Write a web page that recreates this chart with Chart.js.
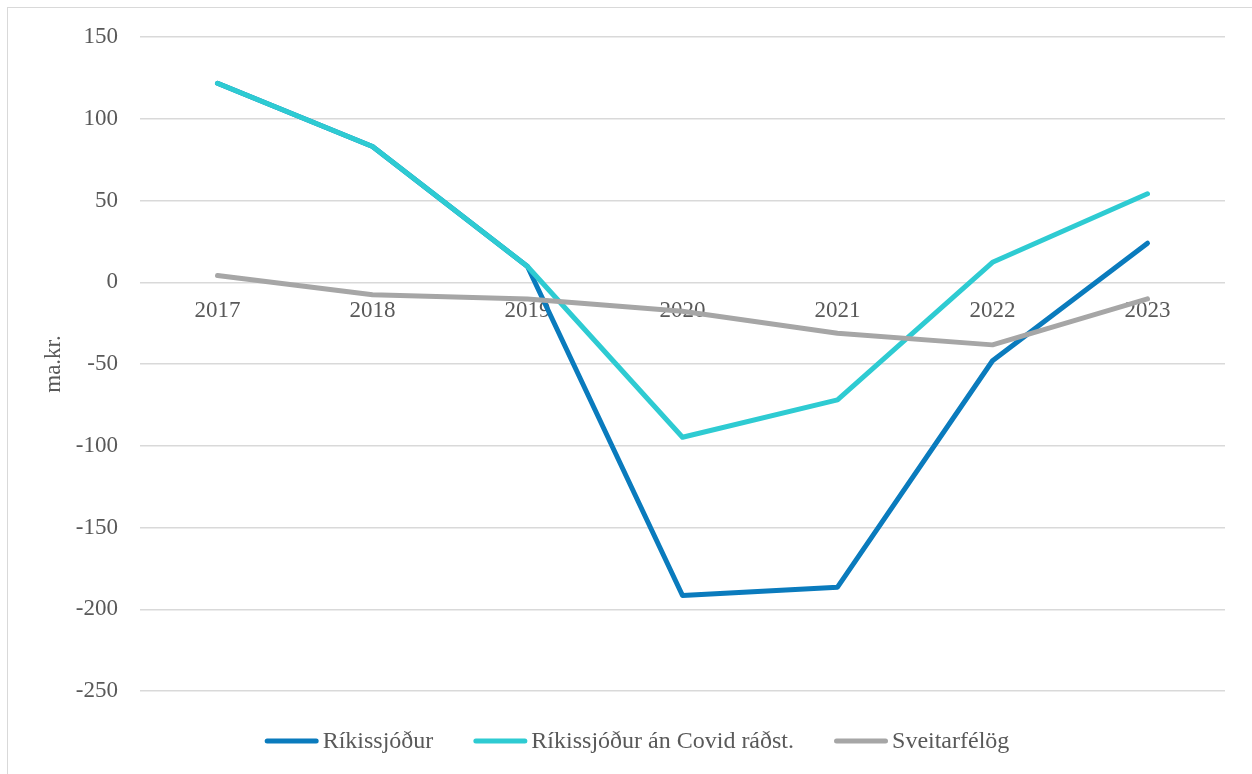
<!DOCTYPE html>
<html>
<head>
<meta charset="utf-8">
<script src="https://cdn.jsdelivr.net/npm/chart.js@4/dist/chart.umd.min.js"></script>
<style>
    html, body {
        margin: 0;
        padding: 0;
        background: #fff;
    }
    #wraper {
        width: 1252px;
        height: 774px;
    }
</style>
</head>
<body>
<div id="wraper"><canvas id="chart" width="1252" height="774"></canvas></div>
<script>
var years = ["2017", "2018", "2019", "2020", "2021", "2022", "2023"];

var rikissjodur = [121.7, 83, 9.6, -191.6, -186.5, -48, 23.9];
var anCovid = [121.7, 83, 9.6, -94.8, -71.9, 12.2, 54.1];
var sveitarfelog = [4.1, -7.7, -10.2, -17.7, -31.2, -38.3, -10.2];

var seriesNames = ["Ríkissjóður", "Ríkissjóður án Covid ráðst.", "Sveitarfélög"];
var yTicks = [150, 100, 50, 0, -50, -100, -150, -200, -250];

var FONT = "'Liberation Serif', 'Times New Roman', serif";
var TEXT_COLOR = "#595959";
var COLORS = ["#0a7bbd", "#2ecbd2", "#a6a6a6"];

function lineSet(name, data, color, order) {
    return {
        label: name,
        data: data,
        borderColor: color,
        backgroundColor: color,
        borderWidth: 5,
        borderCapStyle: "round",
        borderJoinStyle: "round",
        pointRadius: 0,
        pointHoverRadius: 0,
        tension: 0,
        fill: false,
        order: order
    };
}

// frame + white background
var framePlugin = {
    id: "frame",
    beforeDraw: function(chart) {
        var ctx = chart.ctx;
        ctx.save();
        ctx.fillStyle = "#fff";
        ctx.fillRect(0, 0, chart.width, chart.height);
        ctx.strokeStyle = "#d9d9d9";
        ctx.lineWidth = 1;
        ctx.strokeRect(7.5, 7.5, chart.width + 20, chart.height + 20);
        ctx.restore();
    }
};

// year labels sit just under the zero line, like in the excel original
var yearLabels = {
    id: "yearLabels",
    beforeDatasetsDraw: function(chart) {
        var ctx = chart.ctx,
            x = chart.scales.x,
            y = chart.scales.y,
            base = y.getPixelForValue(0) + 35;

        ctx.save();
        ctx.font = "23px " + FONT;
        ctx.fillStyle = TEXT_COLOR;
        ctx.textAlign = "center";
        ctx.textBaseline = "alphabetic";
        years.forEach(function(label, i) {
            ctx.fillText(label, x.getPixelForValue(i), base);
        });
        ctx.restore();
    }
};

var bottomLegend = {
    id: "bottomLegend",
    afterDraw: function(chart) {
        var ctx = chart.ctx,
            swatch = 54,
            gap = 4,
            spacing = 40,
            y = 741,
            widths = [],
            total = 0;

        ctx.save();
        ctx.font = "24px " + FONT;
        seriesNames.forEach(function(name) {
            var w = ctx.measureText(name).width;
            widths.push(w);
            total += swatch + gap + w;
        });
        total += spacing * (seriesNames.length - 1);

        var left = 637 - total / 2;
        seriesNames.forEach(function(name, i) {
            ctx.strokeStyle = COLORS[i];
            ctx.lineWidth = 5;
            ctx.lineCap = "round";
            ctx.beginPath();
            ctx.moveTo(left + 2.5, y);
            ctx.lineTo(left + swatch - 2.5, y);
            ctx.stroke();

            ctx.fillStyle = TEXT_COLOR;
            ctx.textAlign = "left";
            ctx.textBaseline = "middle";
            ctx.fillText(name, left + swatch + gap, y + 1);
            left += swatch + gap + widths[i] + spacing;
        });
        ctx.restore();
    }
};

var chart = new Chart(document.getElementById("chart").getContext("2d"), {
    type: "line",
    data: {
        labels: years,
        datasets: [
            lineSet(seriesNames[0], rikissjodur, COLORS[0], 2),
            lineSet(seriesNames[1], anCovid, COLORS[1], 1),
            lineSet(seriesNames[2], sveitarfelog, COLORS[2], 0)
        ]
    },
    options: {
        responsive: false,
        animation: false,
        layout: {
            padding: {
                left: 0,
                top: 37,
                right: 27,
                bottom: 83
            }
        },
        plugins: {
            legend: {
                display: false
            },
            tooltip: {
                enabled: false
            }
        },
        scales: {
            x: {
                type: "category",
                offset: true,
                display: false
            },
            y: {
                min: yTicks[yTicks.length - 1],
                max: yTicks[0],
                afterFit: function(scale) {
                    scale.width = 140;
                },
                afterBuildTicks: function(scale) {
                    scale.ticks = yTicks.map(function(v) {
                        return { value: v };
                    });
                },
                border: {
                    display: false
                },
                grid: {
                    color: "#d9d9d9",
                    lineWidth: 1.5,
                    drawTicks: false
                },
                ticks: {
                    padding: 22,
                    color: TEXT_COLOR,
                    font: {
                        family: FONT,
                        size: 23
                    }
                },
                title: {
                    display: true,
                    text: "ma.kr.",
                    color: TEXT_COLOR,
                    padding: {
                        top: 40,
                        bottom: 0
                    },
                    font: {
                        family: FONT,
                        size: 23
                    }
                }
            }
        }
    },
    plugins: [framePlugin, yearLabels, bottomLegend]
});
</script>
</body>
</html>
